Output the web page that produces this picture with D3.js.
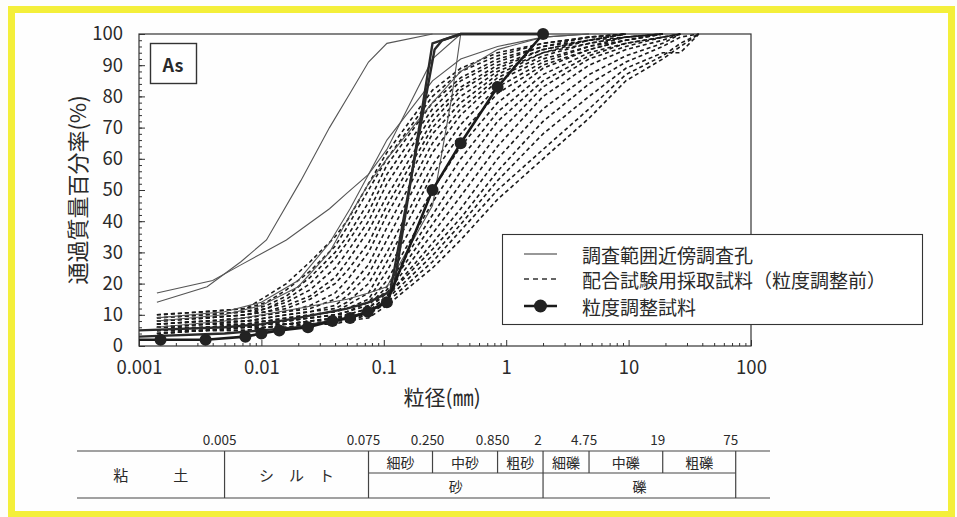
<!DOCTYPE html>
<html>
<head>
<meta charset="utf-8">
<script src="https://cdn.jsdelivr.net/npm/d3@7"></script>
<style>
body { margin: 0; background: #fff; }
text { font-family: "Noto Sans CJK JP", sans-serif; fill: #2a2a2a; }
</style>
</head>
<body>
<div id="c"></div>
<script>
"use strict";

// axis ticks
const yTicks = [0, 10, 20, 30, 40, 50, 60, 70, 80, 90, 100]
const xTicks = [0.001, 0.01, 0.1, 1, 10, 100]
const xTickLabels = ["0.001", "0.01", "0.1", "1", "10", "100"]

// survey holes near the area (thin solid)
const surveyHoles = [
    [[0.0014,14],[0.0036,19],[0.0068,27],[0.011,34],[0.021,53],[0.036,70],[0.053,81],[0.075,91],[0.106,97],[0.25,100]],
    [[0.0014,17],[0.004,21],[0.0068,26],[0.016,34],[0.036,44],[0.05,49],[0.075,55],[0.106,63],[0.25,92],[0.425,100]],
    [[0.0014,9],[0.005,11],[0.01,14],[0.02,21],[0.036,33],[0.053,44],[0.075,55],[0.106,66],[0.25,85],[0.425,92],[0.85,96],[2,99],[4.75,100]],
    [[0.0014,8],[0.005,10],[0.01,13],[0.02,19],[0.036,30],[0.053,42],[0.075,52],[0.106,60],[0.25,78],[0.425,88],[0.85,95],[2,99],[4.75,100]],
    [[0.0014,6],[0.005,8],[0.01,10],[0.02,12],[0.05,15],[0.075,17],[0.106,19],[0.25,45],[0.36,80],[0.425,100]]
]

// steep samples drawn bold
const steepSamples = [
    [[0.001,5],[0.005,6],[0.01,7],[0.02,9],[0.05,12],[0.075,14],[0.12,18],[0.25,97],[0.425,100],[2,100]],
    [[0.001,3],[0.005,4],[0.01,5],[0.02,6],[0.05,9],[0.075,11],[0.11,15],[0.26,95],[0.3,98],[0.425,100],[2,100]]
]

// mix test samples (dashed), passing % at each sieve size
const sieveSizes = [0.0014,0.0035,0.0075,0.011,0.016,0.025,0.04,0.05,0.075,0.106,0.25,0.425,0.85,2,4.75,9.5,19,26.5,37.5]
const mixSamples = [
    [10,11,12,16,20,27,35,40,52,62,82,89,94,97,99,100],
    [10,11,12,14,18,24,32,38,50,60,80,88,93,97,99,100],
    [9,10,11,13,16,22,30,35,46,58,78,86,92,96,99,100],
    [9,10,11,12,15,20,28,33,43,55,76,85,91,96,98,100],
    [8,9,10,12,14,18,25,30,40,52,74,83,90,95,98,100],
    [8,9,10,11,13,16,22,27,37,48,72,82,89,95,98,100],
    [8,9,10,11,12,15,20,24,33,45,70,80,88,94,98,99,100],
    [7,8,9,10,11,13,17,21,30,42,68,78,87,94,97,99,100],
    [7,8,9,10,11,12,15,18,26,38,65,76,86,93,97,99,100],
    [7,8,8,9,10,11,13,16,23,34,62,74,85,92,96,99,100],
    [6,7,8,9,10,11,12,14,20,30,58,71,83,91,96,98,100],
    [6,7,8,8,9,10,11,13,17,27,55,68,81,90,95,98,100],
    [6,7,7,8,9,10,11,12,15,24,50,64,78,89,95,98,100],
    [6,6,7,8,8,9,10,11,14,21,46,60,75,87,94,97,99,100],
    [5,6,7,7,8,9,10,11,13,19,42,56,72,85,93,97,99,100],
    [5,6,6,7,8,9,10,10,12,18,39,52,68,83,92,96,99,100],
    [5,6,6,7,7,8,9,10,12,17,36,48,64,80,90,95,98,100],
    [5,5,6,7,7,8,9,9,11,16,33,44,60,76,87,93,97,100],
    [5,5,6,6,7,8,8,9,11,16,31,41,56,72,84,91,96,99,100],
    [4,5,6,6,7,7,8,9,10,15,29,39,53,68,80,89,94,94,100],
    [4,5,5,6,6,7,8,8,10,14,27,37,50,63,76,87,93,97,100],
    [4,5,5,6,6,7,7,8,9,13,25,34,47,60,73,85,92,96,100]
]

// grading adjusted sample (bold with markers)
const adjustedSample = [[0.001,2],[0.0015,2],[0.0035,2],[0.0074,3],[0.01,4],[0.014,5],[0.024,6],[0.038,8],[0.053,9],[0.074,11],[0.106,14],[0.25,50],[0.425,65],[0.85,83],[2,100]]

const legendLabels = ["調査範囲近傍調査孔", "配合試験用採取試料（粒度調整前）", "粒度調整試料"]

// soil classification band
const bounds = [0.005, 0.075, 0.25, 0.85, 2, 4.75, 19, 75]
const boundLabels = ["0.005", "0.075", "0.250", "0.850", "2", "4.75", "19", "75"]
const subClasses = [[0.075,0.25,"細砂"],[0.25,0.85,"中砂"],[0.85,2,"粗砂"],[2,4.75,"細礫"],[4.75,19,"中礫"],[19,75,"粗礫"]]
const mainClasses = [[0.075,2,"砂"],[2,75,"礫"]]

const W = 957, H = 517
const margin = {top: 34, right: 206, bottom: 171, left: 139}

let svg = d3.select('#c').append('svg').attr('width', W).attr('height', H)

svg.append('rect').attr('x', 0).attr('y', 0).attr('width', W).attr('height', H).attr('fill', '#fdfdfb')
svg.append('rect')
    .attr('x', 11.5).attr('y', 9.5).attr('width', 940).attr('height', 505)
    .attr('fill', '#fefefe').attr('stroke', '#f4ef3a').attr('stroke-width', 7)

let xScale = d3.scaleLog().domain([0.001, 100]).range([margin.left, W - margin.right])
let yScale = d3.scaleLinear().domain([0, 100]).range([H - margin.bottom, margin.top])
const x0 = xScale.range()[0], x1 = xScale.range()[1]
const y0 = yScale.range()[0], y1 = yScale.range()[1]

// axes
let minorX = []
for (let e = -3; e < 2; e++) for (let m = 2; m < 10; m++) minorX.push(m * Math.pow(10, e))

svg.append('g').attr('transform', 'translate(0,' + y0 + ')')
    .call(d3.axisBottom(xScale).tickValues(minorX).tickSize(-3).tickFormat(''))
svg.append('g').attr('transform', 'translate(0,' + y0 + ')')
    .call(d3.axisBottom(xScale).tickValues(xTicks).tickSize(-6).tickPadding(15)
        .tickFormat((d, i) => xTickLabels[i]))
svg.append('g').attr('transform', 'translate(' + x0 + ',0)')
    .call(d3.axisLeft(yScale).tickValues(d3.range(0, 101, 2)).tickSize(-3).tickFormat(''))
svg.append('g').attr('transform', 'translate(' + x0 + ',0)')
    .call(d3.axisLeft(yScale).tickValues(yTicks).tickSize(-6).tickPadding(16))

svg.selectAll('.domain').remove()
svg.selectAll('.tick line').attr('stroke', '#333')
svg.selectAll('.tick text').style('font-size', '18.5px').attr('fill', '#2a2a2a')

svg.append('rect')
    .attr('x', x0).attr('y', y1).attr('width', x1 - x0).attr('height', y0 - y1)
    .attr('fill', 'none').attr('stroke', '#333').attr('stroke-width', 1.2)

svg.append('text').text('通過質量百分率(%)')
    .attr('transform', 'translate(76,' + ((y0 + y1) / 2) + ') rotate(-90)')
    .attr('text-anchor', 'middle').attr('dominant-baseline', 'central')
    .style('font-size', '22px')

svg.append('text').text('粒径(㎜)')
    .attr('x', xScale(0.3)).attr('y', 396)
    .attr('text-anchor', 'middle').attr('dominant-baseline', 'central')
    .style('font-size', '21px')

// lines
svg.append('clipPath').attr('id', 'plot-clip').append('rect')
    .attr('x', x0).attr('y', y1 - 6).attr('width', x1 - x0).attr('height', y0 - y1 + 6)
let graphLayer = svg.append('g').attr('clip-path', 'url(#plot-clip)')
let line = d3.line().x(d => xScale(d[0])).y(d => yScale(d[1]))

mixSamples.forEach(vals => {
    graphLayer.append('path')
        .datum(vals.map((v, i) => [sieveSizes[i], v]))
        .attr('fill', 'none').attr('stroke', '#1a1a1a').attr('stroke-width', 1.6)
        .attr('stroke-dasharray', '4,3').attr('d', line)
})
surveyHoles.forEach(pts => {
    graphLayer.append('path').datum(pts)
        .attr('fill', 'none').attr('stroke', '#555').attr('stroke-width', 1.1).attr('d', line)
})
steepSamples.forEach(pts => {
    graphLayer.append('path').datum(pts)
        .attr('fill', 'none').attr('stroke', '#2a2a2a').attr('stroke-width', 2.4).attr('d', line)
})
graphLayer.append('path').datum(adjustedSample)
    .attr('fill', 'none').attr('stroke', '#1a1a1a').attr('stroke-width', 2.6).attr('d', line)
svg.append('g').selectAll('circle')
    .data(adjustedSample.filter(d => d[0] > xScale.domain()[0]))
    .enter().append('circle')
        .attr('cx', d => xScale(d[0])).attr('cy', d => yScale(d[1])).attr('r', 6)
        .attr('fill', '#222')

// "As" label box
svg.append('rect').attr('x', 150.5).attr('y', 43.5).attr('width', 46).attr('height', 40)
    .attr('fill', '#fff').attr('stroke', '#333').attr('stroke-width', 1.4)
svg.append('text').text('As').attr('x', 173).attr('y', 64)
    .attr('text-anchor', 'middle').attr('dominant-baseline', 'central')
    .style('font-size', '18px').style('font-weight', 'bold')

// legend
let legend = svg.append('g').attr('transform', 'translate(502,234)')
legend.append('rect').attr('x', 0.5).attr('y', 0.5).attr('width', 420).attr('height', 90)
    .attr('fill', '#fff').attr('stroke', '#333').attr('stroke-width', 1.1)
const rowY = [20, 45, 72]
legendLabels.forEach((label, i) => {
    let g = legend.append('g').attr('transform', 'translate(0,' + rowY[i] + ')')
    let ln = g.append('line').attr('x1', 22).attr('x2', 55).attr('y1', 0).attr('y2', 0)
        .attr('stroke', '#333')
    if (i == 0) ln.attr('stroke-width', 1.1)
    if (i == 1) ln.attr('stroke-width', 1.3).attr('stroke-dasharray', '5,4')
    if (i == 2) {
        ln.attr('stroke-width', 2.6).attr('stroke', '#1a1a1a')
        g.append('circle').attr('cx', 38.5).attr('cy', 0).attr('r', 6.5).attr('fill', '#222')
    }
    g.append('text').text(label).attr('x', 80).attr('y', 0)
        .attr('dominant-baseline', 'central').style('font-size', '19px')
})

// classification band
const tTop = 451, tMid = 473, tBot = 498
const tLeft = x0 - 62, tRight = x1 + 19
let band = svg.append('g').attr('stroke', '#444').attr('stroke-width', 1.2)
band.append('line').attr('x1', tLeft).attr('x2', tRight).attr('y1', tTop).attr('y2', tTop)
band.append('line').attr('x1', tLeft).attr('x2', tRight).attr('y1', tBot).attr('y2', tBot)
band.append('line').attr('x1', xScale(0.075)).attr('x2', xScale(75)).attr('y1', tMid).attr('y2', tMid)
bounds.forEach(b => {
    const full = [0.005, 0.075, 2, 75].indexOf(b) >= 0
    band.append('line').attr('x1', xScale(b)).attr('x2', xScale(b))
        .attr('y1', tTop).attr('y2', full ? tBot : tMid)
})
boundLabels.forEach((t, i) => {
    svg.append('text').text(t).attr('x', xScale(bounds[i]) - 5).attr('y', tTop - 6)
        .attr('text-anchor', 'middle').style('font-size', '13.5px')
})
subClasses.forEach(c => {
    svg.append('text').text(c[2]).attr('x', (xScale(c[0]) + xScale(c[1])) / 2).attr('y', (tTop + tMid) / 2)
        .attr('text-anchor', 'middle').attr('dominant-baseline', 'central').style('font-size', '14px')
})
mainClasses.forEach(c => {
    svg.append('text').text(c[2]).attr('x', (xScale(c[0]) + xScale(c[1])) / 2).attr('y', (tMid + tBot) / 2)
        .attr('text-anchor', 'middle').attr('dominant-baseline', 'central').style('font-size', '14px')
})
svg.append('text').text('粘　　　土').attr('x', (tLeft + xScale(0.005)) / 2).attr('y', (tTop + tBot) / 2)
    .attr('text-anchor', 'middle').attr('dominant-baseline', 'central').style('font-size', '15px')
svg.append('text').text('シ　ル　ト').attr('x', (xScale(0.005) + xScale(0.075)) / 2).attr('y', (tTop + tBot) / 2)
    .attr('text-anchor', 'middle').attr('dominant-baseline', 'central').style('font-size', '15px')
</script>
</body>
</html>
